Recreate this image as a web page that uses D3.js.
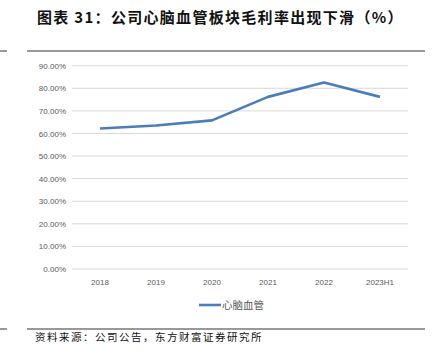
<!DOCTYPE html>
<html><head><meta charset="utf-8">
<script src="https://cdn.jsdelivr.net/npm/d3@7/dist/d3.min.js"></script>
<style>body{margin:0;background:#fff}</style>
</head><body>
<svg id="c" width="435" height="357"></svg>
<script>
const categories = ["2018","2019","2020","2021","2022","2023H1"];
const values = [0.622, 0.635, 0.658, 0.762, 0.826, 0.762];
const seriesName = "心脑血管";
const yTicks = [0,0.1,0.2,0.3,0.4,0.5,0.6,0.7,0.8,0.9];
const title = "图表 31：公司心脑血管板块毛利率出现下滑（%）";
const source = "资料来源：公司公告，东方财富证券研究所";

const svg = d3.select("#c");
const font = "'Noto Sans CJK SC', 'Noto Sans', sans-serif";

svg.append("text").attr("x", 37).attr("y", 23).attr("font-family", font)
  .attr("font-size", 15).attr("font-weight", "bold").attr("letter-spacing", 1.3).attr("fill", "#111").text(title);

// separator lines
[51, 329].forEach(yy => {
  svg.append("line").attr("x1", 0).attr("x2", 7).attr("y1", yy).attr("y2", yy).attr("stroke", "#777").attr("stroke-width", 1.5);
  svg.append("line").attr("x1", 27).attr("x2", 425).attr("y1", yy).attr("y2", yy).attr("stroke", "#777").attr("stroke-width", 1.5);
});

const x = d3.scaleBand().domain(categories).range([72, 408]);
const y = d3.scaleLinear().domain([0, 0.9]).range([269, 65.7]);

const grid = svg.append("g");
yTicks.forEach(t => {
  grid.append("line").attr("x1", 72).attr("x2", 408).attr("y1", y(t)).attr("y2", y(t))
    .attr("stroke", "#d9d9d9").attr("stroke-width", 1);
});

const yAxis = d3.axisLeft(y).tickValues(yTicks).tickFormat(d3.format(".2%")).tickSize(0).tickPadding(6);
const ya = svg.append("g").attr("transform", "translate(72,0)").call(yAxis);
ya.select(".domain").remove();
ya.selectAll("text").attr("font-family", "'Liberation Sans', Arial, sans-serif").attr("font-size", 8).attr("fill", "#595959");

const xAxis = d3.axisBottom(x).tickSize(0).tickPadding(10);
const xa = svg.append("g").attr("transform", "translate(0,269)").call(xAxis);
xa.select(".domain").remove();
xa.selectAll("text").attr("font-family", "'Liberation Sans', Arial, sans-serif").attr("font-size", 8).attr("fill", "#595959");

const line = d3.line().x((d, i) => x(categories[i]) + x.bandwidth() / 2).y(d => y(d));
svg.append("path").datum(values).attr("d", line).attr("fill", "none")
  .attr("stroke", "#4a7ebb").attr("stroke-width", 2.6).attr("stroke-linejoin", "round");

// legend
svg.append("line").attr("x1", 199).attr("x2", 221).attr("y1", 305).attr("y2", 305)
  .attr("stroke", "#4a7ebb").attr("stroke-width", 2.6);
svg.append("text").attr("x", 222).attr("y", 309).attr("font-family", font).attr("font-size", 10.5)
  .attr("fill", "#595959").text(seriesName);

svg.append("text").attr("x", 35).attr("y", 341).attr("font-family", font).attr("font-size", 10.5)
  .attr("fill", "#111").attr("letter-spacing", 1.5).text(source);
</script>
</body></html>
